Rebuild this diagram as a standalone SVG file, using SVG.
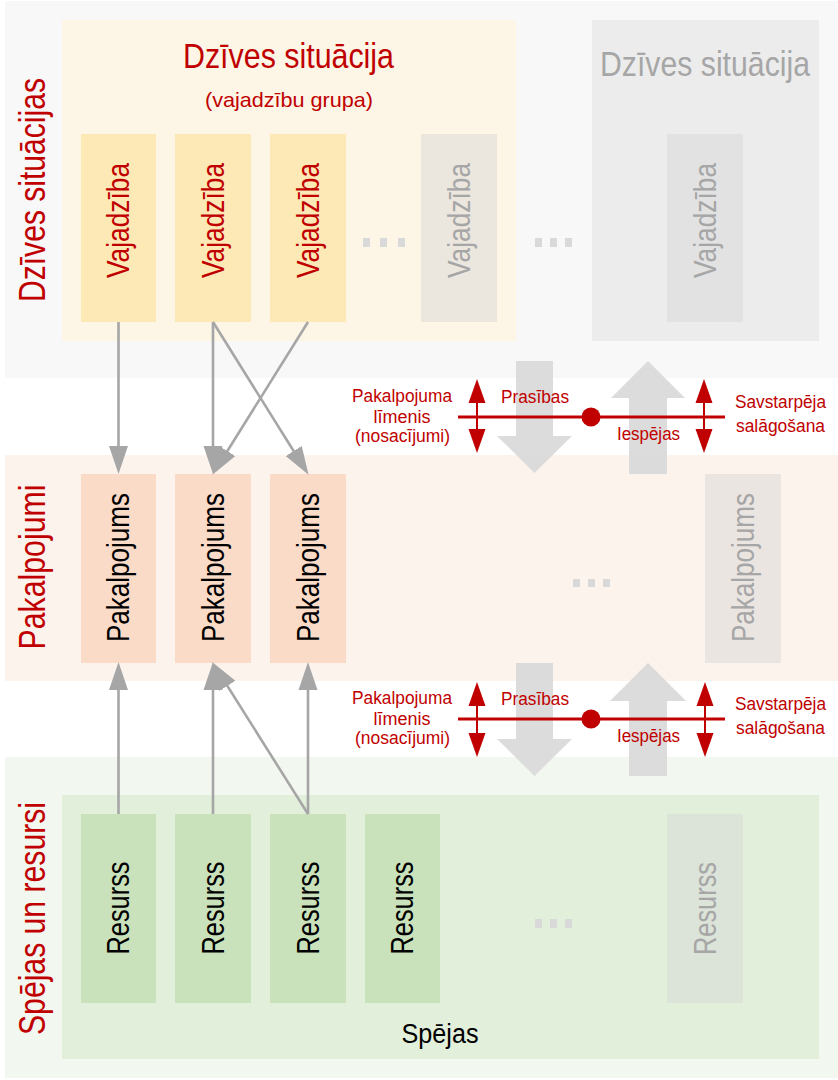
<svg xmlns="http://www.w3.org/2000/svg" width="838" height="1080" viewBox="0 0 838 1080">
<style>
text{font-family:"Liberation Sans",Arial,sans-serif}
.red{fill:#c00000}
.blk{fill:#000}
.gtx{fill:#a6a6a6}
.vt{font-size:32px;text-anchor:middle}
.lbl{font-size:37px;text-anchor:middle;fill:#c00000}
.sm{font-size:17.5px;text-anchor:middle;fill:#c00000}
.need{fill:#fde9b6}
.svc{fill:#f9dbc8}
.res{fill:#c9e2bb}
.ghost{fill:#d4d4d4;fill-opacity:0.45}
.dot{fill:#d9d9d9}
.conn{stroke:#a6a6a6;stroke-width:2.6;fill:none;marker-end:url(#ga)}
.blockarrow{fill:#d9d9d9;fill-opacity:0.92}
.rline{stroke:#c00000;stroke-width:3;fill:none}
.rdbl{stroke:#c00000;stroke-width:2;fill:none;marker-start:url(#ra);marker-end:url(#ra)}
</style>
<defs>
<marker id="ga" markerUnits="userSpaceOnUse" markerWidth="30" markerHeight="24" viewBox="0 -12 30 24" refX="17" refY="0" orient="auto">
<path d="M0,-9.5 L28,0 L0,9.5 Z" fill="#a6a6a6"/>
</marker>
<marker id="ra" markerUnits="userSpaceOnUse" markerWidth="26" markerHeight="20" viewBox="0 -10 26 20" refX="14" refY="0" orient="auto-start-reverse">
<path d="M0,-8.5 L24,0 L0,8.5 Z" fill="#c00000"/>
</marker>
</defs>
<rect width="838" height="1080" fill="#ffffff"/>

<g id="band-situacijas">
<rect x="5" y="1" width="833" height="377" fill="#f8f8f8"/>
<text class="lbl" transform="translate(45,190) rotate(-90)" textLength="224" lengthAdjust="spacingAndGlyphs">Dzīves situācijas</text>
</g>
<g id="band-pakalpojumi">
<rect x="5" y="455" width="833" height="226" fill="#fdf3ed"/>
<text class="lbl" transform="translate(45,567) rotate(-90)" textLength="165" lengthAdjust="spacingAndGlyphs">Pakalpojumi</text>
</g>
<g id="band-resursi">
<rect x="5" y="757" width="833" height="321" fill="#f2f7ef"/>
<text class="lbl" transform="translate(45,918.5) rotate(-90)" textLength="233" lengthAdjust="spacingAndGlyphs">Spējas un resursi</text>
</g>

<g id="situacija-main">
<rect x="62" y="20" width="454" height="321" fill="#fdf5e6"/>
<text x="288.5" y="68" class="red" font-size="35" text-anchor="middle" textLength="211" lengthAdjust="spacingAndGlyphs">Dzīves situācija</text>
<text x="289" y="107" class="red" font-size="21" text-anchor="middle" textLength="168" lengthAdjust="spacingAndGlyphs">(vajadzību grupa)</text>
</g>
<g id="situacija-ghost">
<rect x="592" y="20" width="227" height="321" fill="#ececec"/>
<text x="705" y="76" class="gtx" font-size="35" text-anchor="middle" textLength="210" lengthAdjust="spacingAndGlyphs">Dzīves situācija</text>
</g>

<g id="spejas">
<rect x="62" y="795" width="757" height="264" fill="#e2efda"/>
<text x="440" y="1043" class="blk" font-size="27" text-anchor="middle" textLength="77" lengthAdjust="spacingAndGlyphs">Spējas</text>
</g>

<g id="vaj1"><rect class="need" x="81" y="134" width="75" height="188"/><text class="vt red" transform="translate(129,220.5) rotate(-90)" textLength="115" lengthAdjust="spacingAndGlyphs">Vajadzība</text></g>
<g id="vaj2"><rect class="need" x="175" y="134" width="76" height="188"/><text class="vt red" transform="translate(224,220.5) rotate(-90)" textLength="115" lengthAdjust="spacingAndGlyphs">Vajadzība</text></g>
<g id="vaj3"><rect class="need" x="270" y="134" width="76" height="188"/><text class="vt red" transform="translate(319,220.5) rotate(-90)" textLength="115" lengthAdjust="spacingAndGlyphs">Vajadzība</text></g>
<g id="vaj4"><rect class="ghost" x="421" y="134" width="76" height="188"/><text class="vt gtx" transform="translate(470,220.5) rotate(-90)" textLength="115" lengthAdjust="spacingAndGlyphs">Vajadzība</text></g>
<g id="vaj5"><rect x="667" y="134" width="76" height="188" fill="#e2e2e2"/><text class="vt gtx" transform="translate(716,220.5) rotate(-90)" textLength="115" lengthAdjust="spacingAndGlyphs">Vajadzība</text></g>

<g id="pak1"><rect class="svc" x="81" y="474" width="75" height="189"/><text class="vt blk" transform="translate(129,567.5) rotate(-90)" textLength="149" lengthAdjust="spacingAndGlyphs">Pakalpojums</text></g>
<g id="pak2"><rect class="svc" x="175" y="474" width="76" height="189"/><text class="vt blk" transform="translate(224,567.5) rotate(-90)" textLength="149" lengthAdjust="spacingAndGlyphs">Pakalpojums</text></g>
<g id="pak3"><rect class="svc" x="270" y="474" width="76" height="189"/><text class="vt blk" transform="translate(319,567.5) rotate(-90)" textLength="149" lengthAdjust="spacingAndGlyphs">Pakalpojums</text></g>
<g id="pak4"><rect class="ghost" x="705" y="474" width="76" height="189"/><text class="vt gtx" transform="translate(754,567.5) rotate(-90)" textLength="149" lengthAdjust="spacingAndGlyphs">Pakalpojums</text></g>

<g id="res1"><rect class="res" x="81" y="814" width="75" height="189"/><text class="vt blk" transform="translate(129,908) rotate(-90)" textLength="93" lengthAdjust="spacingAndGlyphs">Resurss</text></g>
<g id="res2"><rect class="res" x="175" y="814" width="76" height="189"/><text class="vt blk" transform="translate(224,908) rotate(-90)" textLength="93" lengthAdjust="spacingAndGlyphs">Resurss</text></g>
<g id="res3"><rect class="res" x="270" y="814" width="76" height="189"/><text class="vt blk" transform="translate(319,908) rotate(-90)" textLength="93" lengthAdjust="spacingAndGlyphs">Resurss</text></g>
<g id="res4"><rect class="res" x="365" y="814" width="75" height="189"/><text class="vt blk" transform="translate(413,908) rotate(-90)" textLength="93" lengthAdjust="spacingAndGlyphs">Resurss</text></g>
<g id="res5"><rect class="ghost" x="667" y="814" width="76" height="189"/><text class="vt gtx" transform="translate(716,908.5) rotate(-90)" textLength="93" lengthAdjust="spacingAndGlyphs">Resurss</text></g>

<g id="ellipses">
<rect class="dot" x="363" y="238" width="7" height="9"/><rect class="dot" x="380" y="238" width="7" height="9"/><rect class="dot" x="398" y="238" width="7" height="9"/>
<rect class="dot" x="535" y="238" width="7" height="9"/><rect class="dot" x="550" y="238" width="7" height="9"/><rect class="dot" x="565" y="238" width="7" height="9"/>
<rect class="dot" x="573" y="579" width="7" height="8"/><rect class="dot" x="588" y="579" width="7" height="8"/><rect class="dot" x="603" y="579" width="7" height="8"/>
<rect class="dot" x="535" y="919" width="7" height="9"/><rect class="dot" x="550" y="919" width="7" height="9"/><rect class="dot" x="565" y="919" width="7" height="9"/>
</g>

<g id="block-arrows">
<polygon class="blockarrow" points="516,361 553,361 553,436 572,436 534.5,473 497,436 516,436"/>
<polygon class="blockarrow" points="648,361 685,398 667,398 667,474 629,474 629,398 611,398"/>
<polygon class="blockarrow" points="516,663 553,663 553,739 572,739 534.5,776 497,739 516,739"/>
<polygon class="blockarrow" points="648,663 686,701 667,701 667,776 629,776 629,701 610,701"/>
</g>

<g id="connectors">
<line class="conn" x1="118.5" y1="322" x2="118.5" y2="463"/>
<line class="conn" x1="213" y1="322" x2="213" y2="463"/>
<line class="conn" x1="213" y1="322" x2="302.7" y2="465.5"/>
<line class="conn" x1="308" y1="322" x2="218.3" y2="465.5"/>
<line class="conn" x1="118.5" y1="814" x2="118.5" y2="673"/>
<line class="conn" x1="213" y1="814" x2="213" y2="673"/>
<line class="conn" x1="308" y1="814" x2="308" y2="673"/>
<line class="conn" x1="308" y1="814" x2="218.3" y2="671.5"/>
</g>

<g id="level-upper">
<line class="rline" x1="458" y1="417" x2="725" y2="417"/>
<circle cx="591" cy="417" r="9.5" fill="#c00000"/>
<line class="rdbl" x1="477" y1="389" x2="477" y2="443"/>
<line class="rdbl" x1="704" y1="389" x2="704" y2="443"/>
<text class="sm" x="402" y="402" textLength="100" lengthAdjust="spacingAndGlyphs">Pakalpojuma</text>
<text class="sm" x="402" y="423" textLength="57" lengthAdjust="spacingAndGlyphs">līmenis</text>
<text class="sm" x="402.5" y="442" textLength="95" lengthAdjust="spacingAndGlyphs">(nosacījumi)</text>
<text class="sm" x="535" y="403" textLength="68" lengthAdjust="spacingAndGlyphs">Prasības</text>
<text class="sm" x="648.5" y="440" textLength="63" lengthAdjust="spacingAndGlyphs">Iespējas</text>
<text class="sm" x="780.5" y="408" textLength="91" lengthAdjust="spacingAndGlyphs">Savstarpēja</text>
<text class="sm" x="780.5" y="432" textLength="89" lengthAdjust="spacingAndGlyphs">salāgošana</text>
</g>

<g id="level-lower">
<line class="rline" x1="458" y1="719" x2="725" y2="719"/>
<circle cx="591" cy="719" r="9.5" fill="#c00000"/>
<line class="rdbl" x1="477" y1="692" x2="477" y2="747"/>
<line class="rdbl" x1="705" y1="692" x2="705" y2="747"/>
<text class="sm" x="402" y="704" textLength="100" lengthAdjust="spacingAndGlyphs">Pakalpojuma</text>
<text class="sm" x="402" y="725" textLength="57" lengthAdjust="spacingAndGlyphs">līmenis</text>
<text class="sm" x="402.5" y="744" textLength="95" lengthAdjust="spacingAndGlyphs">(nosacījumi)</text>
<text class="sm" x="535" y="705" textLength="68" lengthAdjust="spacingAndGlyphs">Prasības</text>
<text class="sm" x="648.5" y="742" textLength="63" lengthAdjust="spacingAndGlyphs">Iespējas</text>
<text class="sm" x="780.5" y="710" textLength="91" lengthAdjust="spacingAndGlyphs">Savstarpēja</text>
<text class="sm" x="780.5" y="734" textLength="89" lengthAdjust="spacingAndGlyphs">salāgošana</text>
</g>
</svg>
